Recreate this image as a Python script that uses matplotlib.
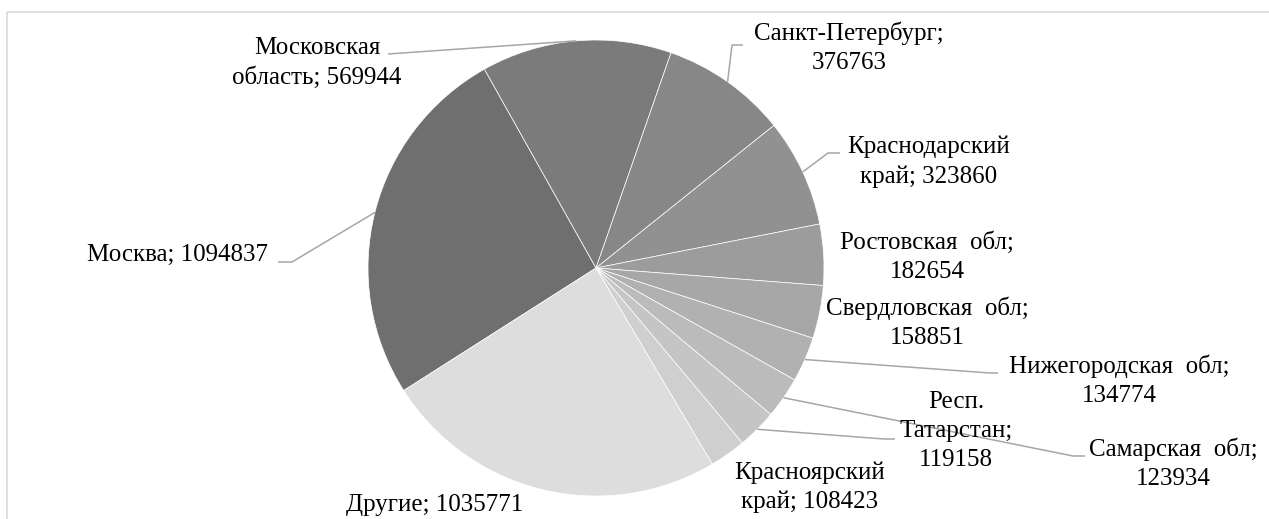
import matplotlib
matplotlib.use('Agg')
import matplotlib.pyplot as plt
import numpy as np
from matplotlib.patches import Rectangle

# ---- data ----
names = ['Москва', 'Московская\nобласть', 'Санкт-Петербург', 'Краснодарский\nкрай',
         'Ростовская обл', 'Свердловская обл', 'Нижегородская обл', 'Самарская обл',
         'Респ.\nТатарстан', 'Красноярский\nкрай', 'Другие']
values = [1094837, 569944, 376763, 323860, 182654, 158851, 134774, 123934,
          119158, 108423, 1035771]
# separator between name and value in the data label (line wrap or space)
label_sep = [' ', ' ', '\n', ' ', '\n', '\n', '\n', '\n', '\n', ' ', ' ']

colors = ['#6f6f6f', '#7b7b7b', '#878787', '#919191', '#9c9c9c', '#a7a7a7',
          '#b1b1b1', '#bbbbbb', '#c5c5c5', '#cfcfcf', '#dddddd']

W, H = 1269, 519
fig = plt.figure(figsize=(W / 100, H / 100), dpi=100)
ax = fig.add_axes([0, 0, 1, 1])

def P(x, y):
    return (x, H - y)

cx, cy = P(596, 268)
R = 228
wedges, _ = ax.pie(values, colors=colors, startangle=212.5, counterclock=False,
                   center=(cx, cy), radius=R,
                   wedgeprops=dict(edgecolor='white', linewidth=0.5))
ax.set_xlim(0, W)
ax.set_ylim(0, H)
ax.set_aspect('equal')
ax.axis('off')

# frame of the chart area
ax.add_patch(Rectangle(P(7, 12), W, -H, fill=False, edgecolor='#d9d9d9',
                       linewidth=1.2, clip_on=False))

font = dict(family=['Liberation Serif', 'DejaVu Serif'], size=18, color='black')

# label layout (pixel coords of text block center, alignment)
label_pos = [(268, 255, 'right'), (317, 63, 'center'), (849, 48, 'center'),
             (929, 162, 'center'), (927, 257, 'center'), (927, 323, 'center'),
             (1119, 381, 'center'), (1173, 464, 'center'), (956, 431, 'center'),
             (810, 487, 'center'), (435, 505, 'center')]
# leader line points at the text side (pixel coords), None = no leader
leaders = [[(292, 262), (278, 262)], [(388, 54)], [(732, 45), (743, 45)],
           [(828, 153), (840, 153)], None, None, [(990, 373), (998, 373)],
           [(1073, 456), (1085, 456)], [(884, 439), (895, 439)], None, None]

for i, w in enumerate(wedges):
    name = names[i].replace(' обл', '  обл')  # wider word gap as in source
    txt = f"{name};{label_sep[i]}{values[i]}"
    x, y, ha = label_pos[i]
    ax.text(*P(x, y), txt, ha=ha, va='center', multialignment='center',
            linespacing=1.4, **font)
    if leaders[i] is not None:
        mid = np.deg2rad((w.theta1 + w.theta2) / 2)
        ex, ey = cx + R * np.cos(mid), cy + R * np.sin(mid)
        pts = [(ex, ey)] + [P(px, py) for px, py in leaders[i]]
        xs, ys = zip(*pts)
        ax.plot(xs, ys, color='#a6a6a6', linewidth=1.1, solid_capstyle='butt')

fig.savefig('out.png', dpi=100)
